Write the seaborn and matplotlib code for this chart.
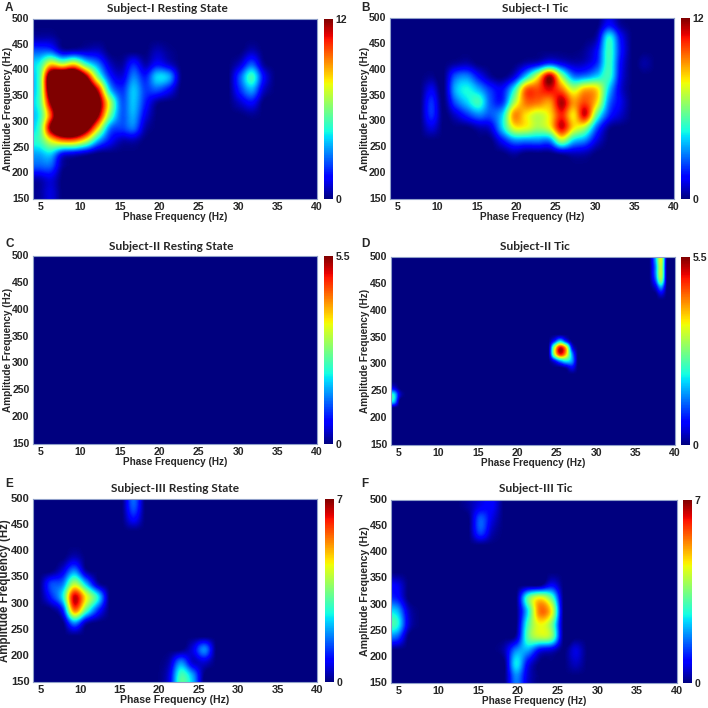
import numpy as np
import matplotlib
matplotlib.use("Agg")
import matplotlib.pyplot as plt
import seaborn as sns

# cells of the coarse grid: 1.5 Hz wide, 25 Hz tall, top row = 487.5 Hz, phase 4.75 .. 39.25
subject1_rest = [
    [0,0,0,0,0,0,0,0,0,0,0,0,0,0,0,0,0,0,0,0,0,0,0,0],
    [.5,.5,0,0,0,0,0,0,0,0,0,0,0,0,0,0,0,0,0,0,0,0,0,0],
    [2.5,2.5,.8,.8,.8,.8,0,0,0,0,.6,.2,0,0,0,0,0,0,.6,0,0,0,0,0],
    [4.5,8,7,8,5,3,.8,.3,1.8,.5,1.5,.8,0,0,0,0,0,.8,2.5,.3,0,0,0,0],
    [5,14,16,16,12,6,2,1,3,1.8,4,3.5,.2,0,0,0,0,2.5,5,1.5,0,0,0,0],
    [5,14,16,16,15,11,4,2,3.8,2.2,2.5,1.5,0,0,0,0,0,2,3.5,.8,0,0,0,0],
    [5,12,16,16,16,13,7,2.6,3.8,1.8,.3,0,0,0,0,0,0,.8,1.5,0,0,0,0,0],
    [4.5,10,16,16,16,12,6,2.6,3.5,1.2,0,0,0,0,0,0,0,0,.2,0,0,0,0,0],
    [5,12,16,16,13,8,3,2.2,2.8,.5,0,0,0,0,0,0,0,0,0,0,0,0,0,0],
    [5,7.5,9,9,7,3.5,1.5,.5,.5,0,0,0,0,0,0,0,0,0,0,0,0,0,0,0],
    [3.5,4,1.5,1,.5,0,0,0,0,0,0,0,0,0,0,0,0,0,0,0,0,0,0,0],
    [2.5,2.5,.3,0,0,0,0,0,0,0,0,0,0,0,0,0,0,0,0,0,0,0,0,0],
    [.5,1,0,0,0,0,0,0,0,0,0,0,0,0,0,0,0,0,0,0,0,0,0,0],
    [.3,1,0,0,0,0,0,0,0,0,0,0,0,0,0,0,0,0,0,0,0,0,0,0],
]
subject1_tic = [
    [0,0,0,0,0,0,0,0,0,0,0,0,0,0,0,0,0,0,1.5,.3,0,0,0,0],
    [0,0,0,0,0,0,0,0,0,0,0,0,0,0,0,0,0,.6,4.5,1.5,0,0,0,0],
    [0,0,0,0,0,0,0,0,0,0,0,0,0,0,0,0,.3,1.5,5,1.8,0,0,0,0],
    [0,0,0,0,0,.3,.5,0,0,0,0,.5,1,2,1.2,.6,.8,2,5,1.5,0,.4,0,0],
    [0,0,0,.2,0,2.5,3,1.5,.3,0,1,4,7.5,11.5,6.5,3,3,4,5,1.3,0,0,0,0],
    [0,0,0,1.2,0,3.5,4.5,3.5,2,1.5,4.5,9.5,10,11,9.5,7,8.5,8,4,1,0,0,0,0],
    [0,0,0,2,0,2.5,4,5,2.5,2,6.5,9.5,9.5,9,11.5,9,10,8,3,1.2,0,0,0,0],
    [0,0,0,2,0,.8,2,3,2.5,4,9,8,7,8,10.5,8,11,5.5,2,.8,0,0,0,0],
    [0,0,0,1,0,0,0,.5,1,4,7.5,7.5,6.5,7.5,11,8,6.5,2.5,.3,0,0,0,0,0],
    [0,0,0,0,0,0,0,0,0,1.5,3,3,3,3,6.5,4,3,1,0,0,0,0,0,0],
    [0,0,0,0,0,0,0,0,0,0,.4,0,0,0,.4,.6,.5,0,0,0,0,0,0,0],
    [0,0,0,0,0,0,0,0,0,0,0,0,0,0,0,0,0,0,0,0,0,0,0,0],
    [0,0,0,0,0,0,0,0,0,0,0,0,0,0,0,0,0,0,0,0,0,0,0,0],
    [0,0,0,0,0,0,0,0,0,0,0,0,0,0,0,0,0,0,0,0,0,0,0,0],
]
subject2_rest = [[0] * 24 for row in range(14)]
subject3_rest = [
    [0,0,0,0,0,0,0,0,1.5,0,0,0,0,0,0,0,0,0,0,0,0,0,0,0],
    [0,0,0,0,0,0,0,0,.9,0,0,0,0,0,0,0,0,0,0,0,0,0,0,0],
    [0,0,0,0,0,0,0,0,0,0,0,0,0,0,0,0,0,0,0,0,0,0,0,0],
    [0,0,0,0,0,0,0,0,0,0,0,0,0,0,0,0,0,0,0,0,0,0,0,0],
    [0,0,0,.4,0,0,0,0,0,0,0,0,0,0,0,0,0,0,0,0,0,0,0,0],
    [0,0,.6,1.8,.2,0,0,0,0,0,0,0,0,0,0,0,0,0,0,0,0,0,0,0],
    [0,1.3,1.7,4,2.2,.3,0,0,0,0,0,0,0,0,0,0,0,0,0,0,0,0,0,0],
    [0,1,2.5,6.5,4.5,2.6,0,0,0,0,0,0,0,0,0,0,0,0,0,0,0,0,0,0],
    [0,0,1,5.5,3.2,1.2,0,0,0,0,0,0,0,0,0,0,0,0,0,0,0,0,0,0],
    [0,0,0,1.8,.3,0,0,0,0,0,0,0,0,0,0,0,0,0,0,0,0,0,0,0],
    [0,0,0,0,0,0,0,0,0,0,0,0,0,0,0,0,0,0,0,0,0,0,0,0],
    [0,0,0,0,0,0,0,0,0,0,0,0,0,.6,1.8,0,0,0,0,0,0,0,0,0],
    [0,0,0,0,0,0,0,0,0,0,0,.3,1.8,.5,.5,0,0,0,0,0,0,0,0,0],
    [0,0,0,0,0,0,0,0,0,0,0,.6,3,2,0,0,0,0,0,0,0,0,0,0],
]
subject3_tic = [
    [0,0,0,0,0,0,.2,.7,.8,0,0,0,0,0,0,0,0,0,0,0,0,0,0,0],
    [0,0,0,0,0,0,0,1.5,.6,0,0,0,0,0,0,0,0,0,0,0,0,0,0,0],
    [0,0,0,0,0,0,0,1.3,.3,0,0,0,0,0,0,0,0,0,0,0,0,0,0,0],
    [0,0,0,0,0,0,0,0,0,0,0,0,0,0,0,0,0,0,0,0,0,0,0,0],
    [0,0,0,0,0,0,0,0,0,0,0,0,0,0,0,0,0,0,0,0,0,0,0,0],
    [0,0,0,0,0,0,0,0,0,0,0,0,0,0,0,0,0,0,0,0,0,0,0,0],
    [.7,0,0,0,0,0,0,0,0,0,0,0,0,.8,0,0,0,0,0,0,0,0,0,0],
    [1,0,0,0,0,0,0,0,0,0,0,3.2,4.5,3.2,0,0,0,0,0,0,0,0,0,0],
    [2.2,.4,0,0,0,0,0,0,0,0,0,2.5,5.5,4.5,0,0,0,0,0,0,0,0,0,0],
    [2.8,.5,0,0,0,0,0,0,0,0,0,3,4.5,3.5,0,0,0,0,0,0,0,0,0,0],
    [1.5,0,0,0,0,0,0,0,0,0,.3,3.2,4,3.5,0,0,0,0,0,0,0,0,0,0],
    [0,0,0,0,0,0,0,0,0,.3,1.8,2,.8,.5,0,.6,0,0,0,0,0,0,0,0],
    [0,0,0,0,0,0,0,0,0,0,2.5,.8,0,0,0,.4,0,0,0,0,0,0,0,0],
    [0,0,0,0,0,0,0,0,0,0,1.8,.5,0,0,0,0,0,0,0,0,0,0,0,0],
]

# subject II tic has tiny spots, so it gets a finer grid: 0.75 Hz x 12.5 Hz
d_shape = (28, 48)
d_rows = [0,0,1,1,2,2,3,3,4,4,5,
          12,12,12,13,13,13,13,14,14,14,14,15,15,15,15,16,16,
          19,20,20,21]
d_cols = [44,45,44,45,44,45,44,45,44,45,45,
          27,28,29,27,28,29,30,27,28,29,30,27,28,29,30,29,30,
          0,0,1,0]
d_vals = [1.5,3.4,1.3,3.2,1.3,3.2,1,2.8,.4,1.5,.5,
          .8,1.8,.8,3,5,3.8,.7,3,4.8,3.8,1.5,.6,1.5,2,1.5,.2,.6,
          .5,2,.4,1.8]

titles = ["Subject-I Resting State", "Subject-I Tic", "Subject-II Resting State",
          "Subject-II Tic", "Subject-III Resting State", "Subject-III Tic"]
letters = ["A", "B", "C", "D", "E", "F"]
vmaxes = [12, 12, 5.5, 5.5, 7, 7]
vmax_labels = ["12", "12", "5.5", "5.5", "7", "7"]
phase_ticks = [5, 10, 15, 20, 25, 30, 35, 40]
amp_ticks = [150, 200, 250, 300, 350, 400, 450, 500]

# left, right, top, bottom of heat map, left of colorbar, in pixels
boxes = [(33, 317, 19, 199, 324), (390, 674, 18, 199, 681),
         (33, 317, 256, 444, 324), (391, 675, 257, 445, 681),
         (33, 317, 499, 682, 325), (391, 677, 500, 683, 683)]
letter_xy = [(5, 8), (361, 8), (5, 244), (361, 244), (5, 484), (361, 484)]
title_xy = [(167, 9), (535, 9), (171, 246), (535, 246), (175, 489), (536, 488)]
ylabel_x = [8, 365, 8, 365, 5, 365]
tick_sizes = [7.6, 7.6, 7.6, 7.6, 8, 7.8]
ylabel_sizes = [7.2, 7.2, 7.2, 7.2, 8.3, 7.6]
xlabel_sizes = [7.2, 7.2, 7.2, 7.2, 7.6, 7.2]

EDGE = "#8f9fc9"
SIZE = 708.0

sns.set_style("white")
plt.rcParams["font.family"] = ["Liberation Sans", "DejaVu Sans"]


def box_axes(fig, left, right, top, bottom):
    return fig.add_axes([left / SIZE, 1 - bottom / SIZE, (right - left) / SIZE, (bottom - top) / SIZE])


def drawPanel(fig, values, i):
    left, right, top, bottom, cleft = boxes[i]
    ax = box_axes(fig, left, right, top, bottom)
    cax = box_axes(fig, cleft, cleft + 9, top, bottom)
    values = np.array(values, dtype=float)
    nrows, ncols = values.shape
    sns.heatmap(values, ax=ax, cbar_ax=cax, cmap="jet", vmin=0, vmax=vmaxes[i],
                cbar_kws={"ticks": [0, vmaxes[i]]})
    # smooth the cells the way the original surface looks
    ax.collections[0].set_visible(False)
    ax.imshow(values, cmap="jet", vmin=0, vmax=vmaxes[i], aspect="auto",
              interpolation="catrom", interpolation_stage="data",
              extent=(0, ncols, nrows, 0), zorder=1)

    ax.set_xticks([(p - 4) / 36 * ncols for p in phase_ticks])
    ax.set_xticklabels(phase_ticks, rotation=0, fontsize=tick_sizes[i], fontweight="bold")
    ax.set_yticks([(500 - a) / 350 * nrows for a in amp_ticks])
    ax.set_yticklabels(amp_ticks, rotation=0, fontsize=tick_sizes[i], fontweight="bold")
    ax.tick_params(length=0, pad=2.5)
    ax.set_xlim(0, ncols)
    ax.set_ylim(nrows, 0)
    ax.set_xlabel("Phase Frequency (Hz)", fontsize=xlabel_sizes[i], fontweight="bold", va="center")
    ax.set_ylabel("Amplitude Frequency (Hz)", fontsize=ylabel_sizes[i], fontweight="bold", va="center")
    ax.xaxis.set_label_coords(0.5, -18 / (bottom - top))
    ax.yaxis.set_label_coords((ylabel_x[i] - left) / (right - left), 0.5)
    for s in ax.spines.values():
        s.set_visible(True)
        s.set_color(EDGE)
        s.set_linewidth(0.8)

    cax.set_yticklabels(["0", vmax_labels[i]], fontsize=7.6, fontweight="bold")
    cax.tick_params(length=0, pad=2)

    fig.text(title_xy[i][0] / SIZE, 1 - title_xy[i][1] / SIZE, titles[i], family="Lato",
             fontsize=8.6, fontweight="bold", ha="center", va="center")
    fig.text(letter_xy[i][0] / SIZE, 1 - letter_xy[i][1] / SIZE, letters[i],
             fontsize=8.5, fontweight="bold", ha="left", va="center")


subject2_tic = np.zeros(d_shape)
subject2_tic[d_rows, d_cols] = d_vals

fig = plt.figure(figsize=(7.08, 7.08), dpi=100)
panels = [subject1_rest, subject1_tic, subject2_rest, subject2_tic, subject3_rest, subject3_tic]
for i in range(6):
    drawPanel(fig, panels[i], i)
fig.savefig("out.png", dpi=100)
